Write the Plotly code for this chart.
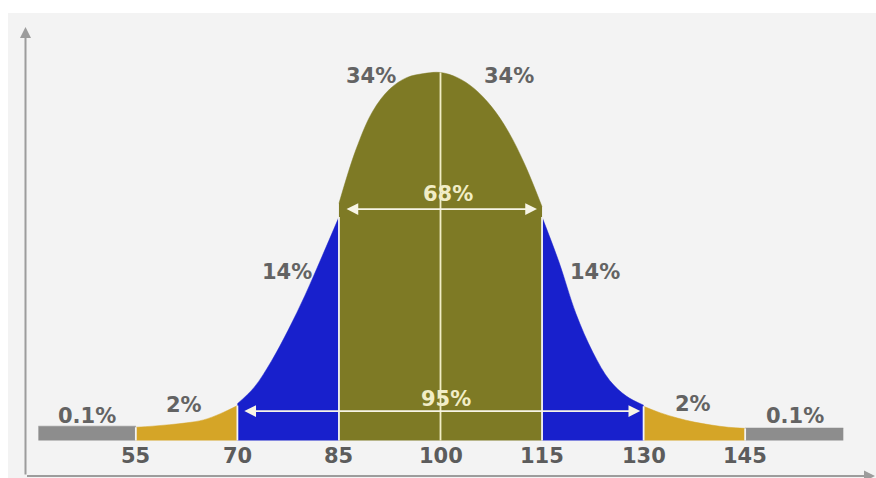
import plotly.graph_objects as go

# ---------------- data ----------------
# IQ scale tick values / labels
tick_values = [55, 70, 85, 100, 115, 130, 145]
tick_labels = ["55", "70", "85", "100", "115", "130", "145"]

# curve height as % of the peak, per band
extreme_left_x = [40.6, 55]
extreme_left_y = [3.9, 3.9]
tail_left_x = [55, 57.5, 60, 62.5, 65, 67.5, 70]
tail_left_y = [3.6, 3.9, 4.3, 4.8, 5.6, 7.3, 9.5]
sd2_left_x = [70, 72.5, 75, 77.5, 80, 82.5, 85]
sd2_left_y = [10.0, 14.5, 21.5, 30.0, 39.5, 50.0, 60.7]
center_x = [85, 87.5, 90, 92.5, 95, 97.5, 100, 102.5, 105, 107.5, 110, 112.5, 115]
center_y = [64.4, 79.0, 89.5, 95.5, 98.6, 99.7, 100.0, 98.6, 95.6, 90.8, 84.0, 74.8, 63.5]
sd2_right_x = [115, 117.5, 120, 122.5, 125, 127.5, 130]
sd2_right_y = [60.7, 48.5, 34.5, 24.0, 16.3, 12.0, 9.6]
tail_right_x = [130, 132.5, 135, 137.5, 140, 142.5, 145]
tail_right_y = [9.3, 7.5, 6.1, 5.0, 4.2, 3.6, 3.3]
extreme_right_x = [145, 159.5]
extreme_right_y = [3.4, 3.4]

# band share labels
share_labels = ["0.1%", "2%", "14%", "34%", "34%", "14%", "2%", "0.1%"]
span_labels = ["68%", "95%"]

# ---------------- styling ----------------
W, H = 876, 478
OLIVE = "#7e7a25"
BLUE = "#1820cc"
GOLD = "#d5a527"
GREY = "#8d8d8d"
TXT = "#636363"
CREAM = "#f1edc6"
FONT = "DejaVu Sans"
FS = 21

fig = go.Figure()


def band(xs, ys, color):
    fig.add_trace(go.Scatter(
        x=xs, y=ys, mode="lines", fill="tozeroy", fillcolor=color,
        line=dict(color=color, width=0.5, shape="spline", smoothing=1.0),
        hoverinfo="skip", showlegend=False))


band(extreme_left_x, extreme_left_y, GREY)
band(extreme_right_x, extreme_right_y, GREY)
band(tail_left_x, tail_left_y, GOLD)
band(tail_right_x, tail_right_y, GOLD)
band(sd2_left_x, sd2_left_y, BLUE)
band(sd2_right_x, sd2_right_y, BLUE)
band(center_x, center_y, OLIVE)

# divider lines between bands
dividers = [
    (tail_left_x[0], min(extreme_left_y[-1], tail_left_y[0]), "#f2f2f2"),
    (sd2_left_x[0], min(tail_left_y[-1], sd2_left_y[0]), "#f4f4f4"),
    (center_x[0], min(sd2_left_y[-1], center_y[0]), "#f4f4f4"),
    (100, max(center_y), CREAM),
    (center_x[-1], min(sd2_right_y[0], center_y[-1]), "#f4f4f4"),
    (tail_right_x[0], min(tail_right_y[0], sd2_right_y[-1]), "#f4f4f4"),
    (tail_right_x[-1], min(extreme_right_y[0], tail_right_y[-1]), "#f2f2f2"),
]
for xv, hv, col in dividers:
    fig.add_trace(go.Scatter(x=[xv, xv], y=[0, hv], mode="lines",
                             line=dict(color=col, width=1.8),
                             hoverinfo="skip", showlegend=False))

ann = []
# tick labels
for v, t in zip(tick_values, tick_labels):
    ann.append(dict(x=v, y=-4.2, xref="x", yref="y", text="<b>%s</b>" % t,
                    showarrow=False, font=dict(family=FONT, size=FS, color="#5c5c5c")))

# share labels
share_pos = [(47.8, 6.7), (62.1, 9.7), (77.3, 45.8), (89.7, 99.0),
             (110.1, 99.0), (122.8, 45.8), (137.3, 9.9), (152.4, 6.7)]
for (px, py), t in zip(share_pos, share_labels):
    ann.append(dict(x=px, y=py, xref="x", yref="y", text="<b>%s</b>" % t,
                    showarrow=False, font=dict(family=FONT, size=FS, color=TXT)))

# span labels
ann.append(dict(x=101.1, y=67.0, xref="x", yref="y", text="<b>%s</b>" % span_labels[0],
                showarrow=False, font=dict(family=FONT, size=FS, color=CREAM)))
ann.append(dict(x=100.8, y=11.4, xref="x", yref="y", text="<b>%s</b>" % span_labels[1],
                showarrow=False, font=dict(family=FONT, size=FS, color=CREAM)))

# double headed span arrows
for x0, x1, yv in [(center_x[0] + 0.9, center_x[-1] - 0.75, 62.9),
                   (sd2_left_x[0] + 0.8, sd2_right_x[-1] - 0.5, 8.0)]:
    ann.append(dict(x=x1, y=yv, ax=x0, ay=yv, xref="x", yref="y",
                    axref="x", ayref="y", text="", showarrow=True,
                    arrowhead=2, startarrowhead=2, arrowside="end+start",
                    arrowsize=1.3, startarrowsize=1.3, arrowwidth=1.8,
                    arrowcolor="#f7f5e6", standoff=0, startstandoff=0))

# axis arrows (y up, x right)
ann.append(dict(x=25.5 / W, y=1 - 27 / H, xref="paper", yref="paper",
                ax=0, ay=449, text="", showarrow=True, arrowhead=2,
                arrowsize=1.1, arrowwidth=2, arrowcolor="#9c9c9c", standoff=0))
ann.append(dict(x=875 / W, y=1 - 476 / H, xref="paper", yref="paper",
                ax=25.5 - 875, ay=0, text="", showarrow=True, arrowhead=2,
                arrowsize=1.1, arrowwidth=2, arrowcolor="#9c9c9c", standoff=0))

PX_PER_X = 6.77
CX = 440.5
PX_PER_Y = 3.68
BASE = 440.5
xr = [100 - CX / PX_PER_X, 100 + (W - CX) / PX_PER_X]
yr = [-(H - BASE) / PX_PER_Y, BASE / PX_PER_Y]

fig.update_layout(
    width=W, height=H,
    margin=dict(l=0, r=0, t=0, b=0),
    paper_bgcolor="white",
    plot_bgcolor="rgba(0,0,0,0)",
    xaxis=dict(range=xr, visible=False, fixedrange=True),
    yaxis=dict(range=yr, visible=False, fixedrange=True),
    shapes=[dict(type="rect", xref="paper", yref="paper", x0=8 / W, x1=1,
                 y0=0, y1=1 - 13 / H, fillcolor="#f3f3f3", line=dict(width=0),
                 layer="below")],
    annotations=ann,
    showlegend=False,
)

fig.write_html("out.html", config={"displayModeBar": False},
               post_script="document.body.style.margin='0px';document.body.style.overflow='hidden';")
